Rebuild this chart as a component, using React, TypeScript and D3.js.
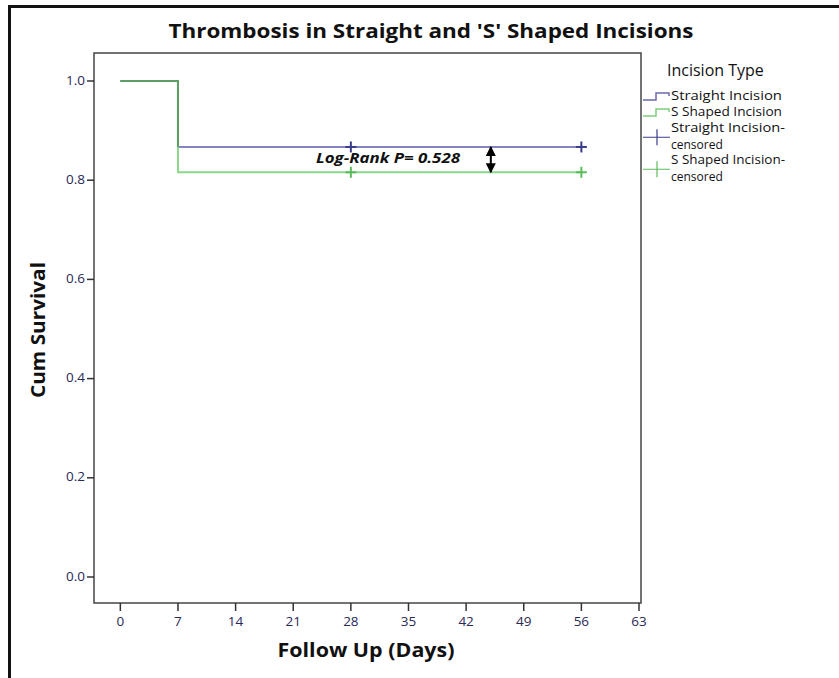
import React from "react";
import * as d3 from "d3";

const title = "Thrombosis in Straight and 'S' Shaped Incisions";
const xLabel = "Follow Up (Days)";
const yLabel = "Cum Survival";
const legendTitle = "Incision Type";
const annotation = "Log-Rank P= 0.528";

const stepDays = [0, 7, 56];
const straightSurvival = [1.0, 0.867, 0.867];
const sShapedSurvival = [1.0, 0.816, 0.816];
const censorDays = [28, 56];
const arrowDay = 45;

const xTicks = [0, 7, 14, 21, 28, 35, 42, 49, 56, 63];
const yTicks = [0.0, 0.2, 0.4, 0.6, 0.8, 1.0];

const legendItems = [
  { lines: ["Straight Incision"], kind: "step", color: "#6a6ab0" },
  { lines: ["S Shaped Incision"], kind: "step", color: "#7ccf7c" },
  { lines: ["Straight Incision-", "censored"], kind: "cross", color: "#3c3c8c" },
  { lines: ["S Shaped Incision-", "censored"], kind: "cross", color: "#5cbc5c" },
];

const W = 839;
const H = 678;
const plot = { left: 94, top: 53, right: 641, bottom: 603 };

export default function App() {
  const x = d3.scaleLinear().domain([-3.2, 63]).range([plot.left, 639]);
  const y = d3.scaleLinear().domain([0, 1]).range([577, 81]);

  const line = d3
    .line<[number, number]>()
    .x((d) => x(d[0]))
    .y((d) => y(d[1]))
    .curve(d3.curveStepAfter);

  const straightPts = stepDays.map((d, i) => [d, straightSurvival[i]] as [number, number]);
  const sPts = stepDays.map((d, i) => [d, sShapedSurvival[i]] as [number, number]);
  const sharedPts: [number, number][] = [
    [stepDays[0], straightSurvival[0]],
    [stepDays[1], straightSurvival[0]],
    [stepDays[1], Math.max(straightSurvival[1], sShapedSurvival[1])],
  ];
  const sharedLine = d3.line<[number, number]>().x((d) => x(d[0])).y((d) => y(d[1]));

  const straightLast = straightSurvival[straightSurvival.length - 1];
  const sLast = sShapedSurvival[sShapedSurvival.length - 1];

  const font = "'Open Sans', 'DejaVu Sans', sans-serif";
  const tickColor = "#2a2a55";

  const cross = (cx: number, cy: number, color: string, key: string) => (
    <g key={key} stroke={color} strokeWidth={2}>
      <line x1={cx - 5.5} x2={cx + 5.5} y1={cy} y2={cy} />
      <line x1={cx} x2={cx} y1={cy - 5.5} y2={cy + 5.5} />
    </g>
  );

  const ax = x(arrowDay);
  const ay1 = y(straightLast) - 2;
  const ay2 = y(sLast) + 2;

  const lineGap = 16.5;
  let ly = 97;
  const legendEls: React.ReactNode[] = [];
  legendItems.forEach((it, i) => {
    const nLines = it.lines.length;
    const midY = ly + ((nLines - 1) * lineGap) / 2;
    if (it.kind === "step") {
      legendEls.push(
        <path
          key={"s" + i}
          d={`M643,${midY + 3}H656V${midY - 4}H669V${midY - 1}`}
          fill="none"
          stroke={it.color}
          strokeWidth={1.5}
        />
      );
    } else {
      legendEls.push(
        <g key={"c" + i}>
          <line x1={643} x2={670} y1={midY} y2={midY} stroke={it.color} strokeWidth={1} />
          <line x1={657} x2={657} y1={midY - 8} y2={midY + 8} stroke={it.color} strokeWidth={1.2} />
        </g>
      );
    }
    it.lines.forEach((t, j) => {
      legendEls.push(
        <text key={"t" + i + "_" + j} x={671} y={ly + j * lineGap} fontFamily={font} fontSize={12} fill="#111" dominantBaseline="middle" textLength={t.length > 9 ? (t.endsWith("-") ? 114 : 111) : undefined} lengthAdjust="spacingAndGlyphs">
          {t}
        </text>
      );
    });
    ly += nLines === 1 ? 16 : 32;
  });

  return (
    <svg
      width={W}
      height={H}
      style={{ position: "absolute", left: 0, top: 0, background: "#fff" }}
    >
      <defs>
        <marker id="ah" viewBox="0 0 10 10" refX="9" refY="5" markerWidth="5" markerHeight="5" orient="auto-start-reverse">
          <path d="M0,0L10,5L0,10z" fill="#000" />
        </marker>
      </defs>
      <rect x={0} y={0} width={W} height={H} fill="#fff" />
      {/* outer frame */}
      <path d={`M9.5,${H + 5}V6.5H${W + 5}`} fill="none" stroke="#111" strokeWidth={3} />

      <text x={431} y={38} textAnchor="middle" fontFamily={font} fontWeight="bold" fontSize={20} fill="#111" textLength={525} lengthAdjust="spacingAndGlyphs">
        {title}
      </text>

      {/* plot frame */}
      <rect x={plot.left} y={plot.top} width={plot.right - plot.left} height={plot.bottom - plot.top} fill="none" stroke="#444" strokeWidth={1.5} />

      {/* y ticks */}
      {yTicks.map((t) => (
        <g key={"y" + t}>
          <line x1={plot.left - 7} x2={plot.left} y1={y(t)} y2={y(t)} stroke="#333" strokeWidth={1.5} />
          <text x={plot.left - 9} y={y(t)} textAnchor="end" dominantBaseline="middle" fontFamily={font} fontSize={13.5} fill={tickColor}>
            {t.toFixed(1)}
          </text>
        </g>
      ))}
      {/* x ticks */}
      {xTicks.map((t) => (
        <g key={"x" + t}>
          <line x1={x(t)} x2={x(t)} y1={plot.bottom} y2={plot.bottom + 8} stroke="#333" strokeWidth={1.5} />
          <text x={x(t)} y={622} textAnchor="middle" dominantBaseline="middle" fontFamily={font} fontSize={13.5} fill={tickColor}>
            {t}
          </text>
        </g>
      ))}

      <text x={366} y={652} textAnchor="middle" dominantBaseline="middle" fontFamily={font} fontWeight="bold" fontSize={19} fill="#111" textLength={177} lengthAdjust="spacingAndGlyphs">
        {xLabel}
      </text>
      <text transform={`translate(40,330) rotate(-90)`} textAnchor="middle" dominantBaseline="middle" fontFamily={font} fontWeight="bold" fontSize={19} fill="#111" textLength={136} lengthAdjust="spacingAndGlyphs">
        {yLabel}
      </text>

      {/* survival curves */}
      <path d={line(straightPts) || ""} fill="none" stroke="#8484c0" strokeWidth={2} />
      <path d={line(sPts) || ""} fill="none" stroke="#8ad88a" strokeWidth={2} />
      <path d={sharedLine(sharedPts) || ""} fill="none" stroke="#5c9e64" strokeWidth={2} />

      {censorDays.map((d) => cross(x(d), y(straightLast), "#3c3c8c", "cs" + d))}
      {censorDays.map((d) => cross(x(d), y(sLast), "#5cbc5c", "cg" + d))}

      {/* annotation */}
      <line x1={ax} x2={ax} y1={ay1 + 2} y2={ay2 - 2} stroke="#000" strokeWidth={2} markerStart="url(#ah)" markerEnd="url(#ah)" />
      <text x={388} y={159} textAnchor="middle" dominantBaseline="middle" fontFamily={font} fontWeight="bold" fontStyle="italic" fontSize={14} fill="#111" textLength={144} lengthAdjust="spacingAndGlyphs">
        {annotation}
      </text>

      {/* legend */}
      <text x={667} y={72} dominantBaseline="middle" fontFamily={font} fontSize={16} fill="#111">
        {legendTitle}
      </text>
      {legendEls}
    </svg>
  );
}
